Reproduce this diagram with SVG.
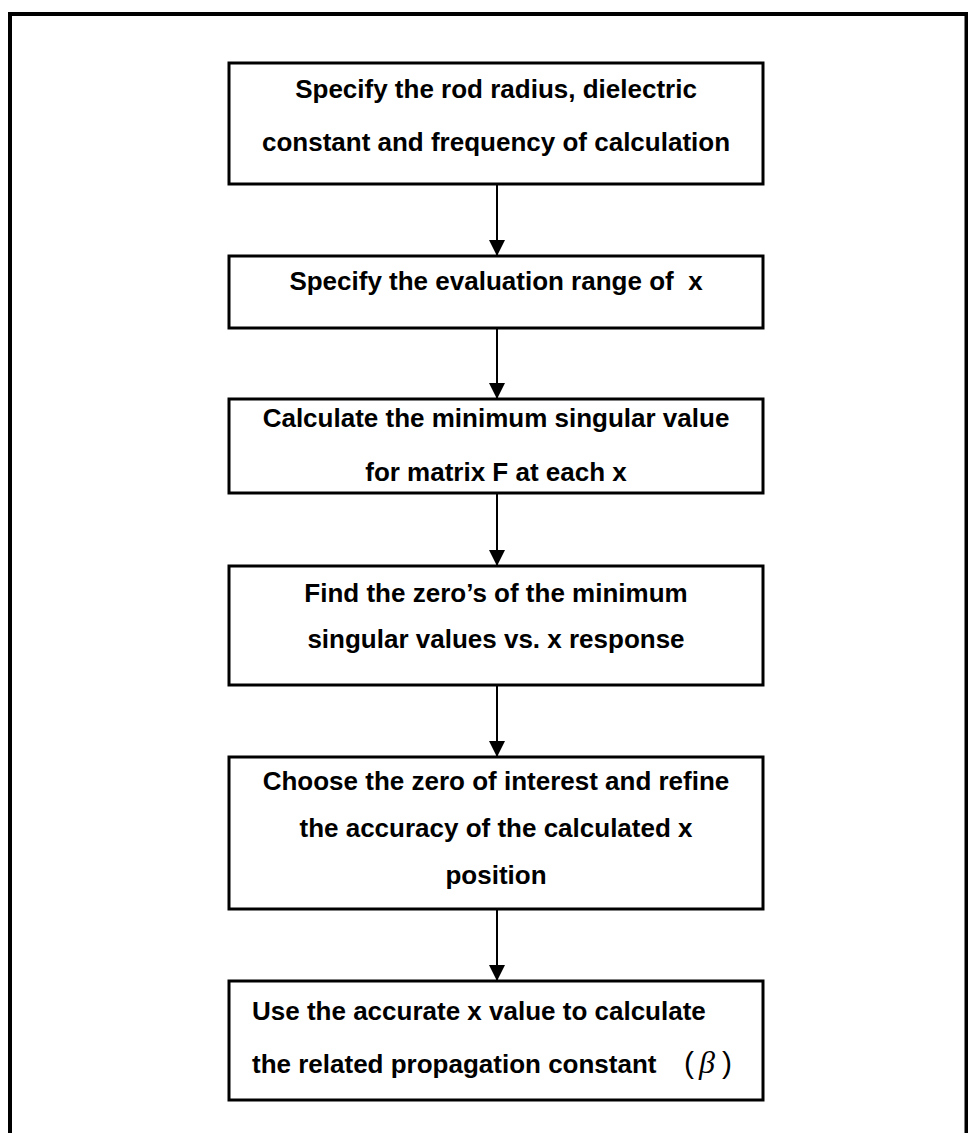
<svg xmlns="http://www.w3.org/2000/svg" width="968" height="1133" viewBox="0 0 968 1133">
<style>
.box{fill:#fff;stroke:#000;stroke-width:3}
.t{font-family:"Liberation Sans",Arial,sans-serif;font-weight:bold;font-size:26px;fill:#000;text-anchor:middle;white-space:pre}
.tl{text-anchor:start}
.conn line{stroke:#000;stroke-width:2}
</style>
<defs>
<marker id="ah" markerWidth="16" markerHeight="16" viewBox="0 0 16 16" refX="16" refY="8" orient="auto" markerUnits="userSpaceOnUse">
<path d="M0,0 L16,8 L0,16 Z" fill="#000"/>
</marker>
</defs>
<rect width="968" height="1133" fill="#fff"/>
<g id="frame">
<path d="M10,1133 V14 H966.5 V1133" fill="none" stroke="#000" stroke-width="4"/>
</g>
<g id="n1">
<rect class="box" x="229" y="63" width="534" height="121"/>
<text class="t" x="496" y="98">Specify the rod radius, dielectric</text>
<text class="t" x="496" y="151">constant and frequency of calculation</text>
</g>
<g id="n2">
<rect class="box" x="229" y="256" width="534" height="72"/>
<text class="t" x="496" y="290">Specify the evaluation range of  x</text>
</g>
<g id="n3">
<rect class="box" x="229" y="399" width="534" height="94"/>
<text class="t" x="496" y="427">Calculate the minimum singular value</text>
<text class="t" x="496" y="481">for matrix F at each x</text>
</g>
<g id="n4">
<rect class="box" x="229" y="566" width="534" height="119"/>
<text class="t" x="496" y="602">Find the zero’s of the minimum</text>
<text class="t" x="496" y="648">singular values vs. x response</text>
</g>
<g id="n5">
<rect class="box" x="229" y="757" width="534" height="152"/>
<text class="t" x="496" y="790">Choose the zero of interest and refine</text>
<text class="t" x="496" y="837">the accuracy of the calculated x</text>
<text class="t" x="496" y="884">position</text>
</g>
<g id="n6">
<rect class="box" x="229" y="981" width="534" height="119"/>
<text class="t tl" x="252" y="1020">Use the accurate x value to calculate</text>
<text class="t tl" x="252" y="1073">the related propagation constant<tspan x="684" font-weight="normal" font-size="30">(</tspan><tspan x="699" font-family="'Liberation Serif',serif" font-style="italic" font-weight="normal" font-size="32">β</tspan><tspan x="722" font-weight="normal" font-size="30">)</tspan></text>
</g>
<g id="connectors" class="conn">
<line x1="497" y1="184" x2="497" y2="256" marker-end="url(#ah)"/>
<line x1="497" y1="328" x2="497" y2="399" marker-end="url(#ah)"/>
<line x1="497" y1="493" x2="497" y2="566" marker-end="url(#ah)"/>
<line x1="497" y1="685" x2="497" y2="757" marker-end="url(#ah)"/>
<line x1="497" y1="909" x2="497" y2="981" marker-end="url(#ah)"/>
</g>
</svg>
